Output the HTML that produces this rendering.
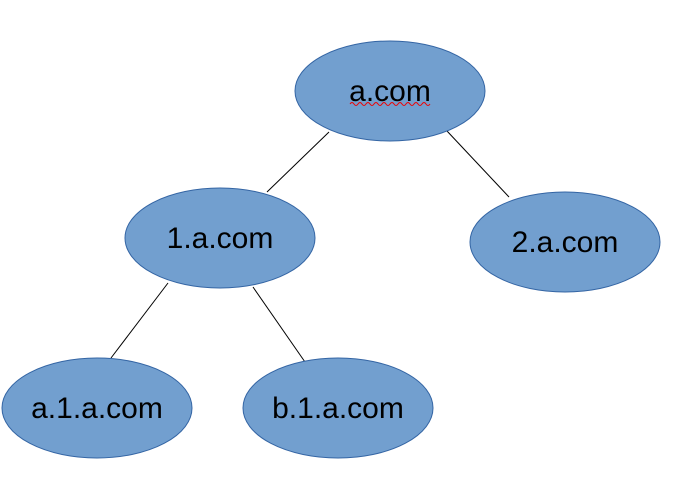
<!DOCTYPE html>
<html><head><style>body{margin:0;background:#fff}</style></head><body>
<svg width="677" height="479" xmlns="http://www.w3.org/2000/svg" font-family="Liberation Sans, sans-serif" font-size="30">
<g stroke="#000" stroke-width="1">
<line x1="329" y1="132" x2="267" y2="192"/>
<line x1="447" y1="131" x2="509" y2="197"/>
<line x1="168" y1="283" x2="111" y2="358"/>
<line x1="253" y1="287" x2="305" y2="362"/>
</g>
<g fill="#729fcf" stroke="#3465a4" stroke-width="1">
<ellipse cx="390" cy="91" rx="95" ry="50"/>
<ellipse cx="220" cy="238" rx="95" ry="50"/>
<ellipse cx="565" cy="242" rx="95" ry="50"/>
<ellipse cx="97" cy="408" rx="95" ry="50"/>
<ellipse cx="338" cy="408" rx="95" ry="50"/>
</g>
<g fill="#000" text-anchor="middle">
<text x="390" y="101">a.com</text>
<text x="220" y="248">1.a.com</text>
<text x="565" y="252">2.a.com</text>
<text x="97" y="418">a.1.a.com</text>
<text x="338" y="418">b.1.a.com</text>
</g>
<path d="M350 104 q2 -3 4 0 t4 0 t4 0 t4 0 t4 0 t4 0 t4 0 t4 0 t4 0 t4 0 t4 0 t4 0 t4 0 t4 0 t4 0 t4 0 t4 0 t4 0 t4 0 t4 0" fill="none" stroke="#e00" stroke-width="1"/>
</svg>
</body></html>
